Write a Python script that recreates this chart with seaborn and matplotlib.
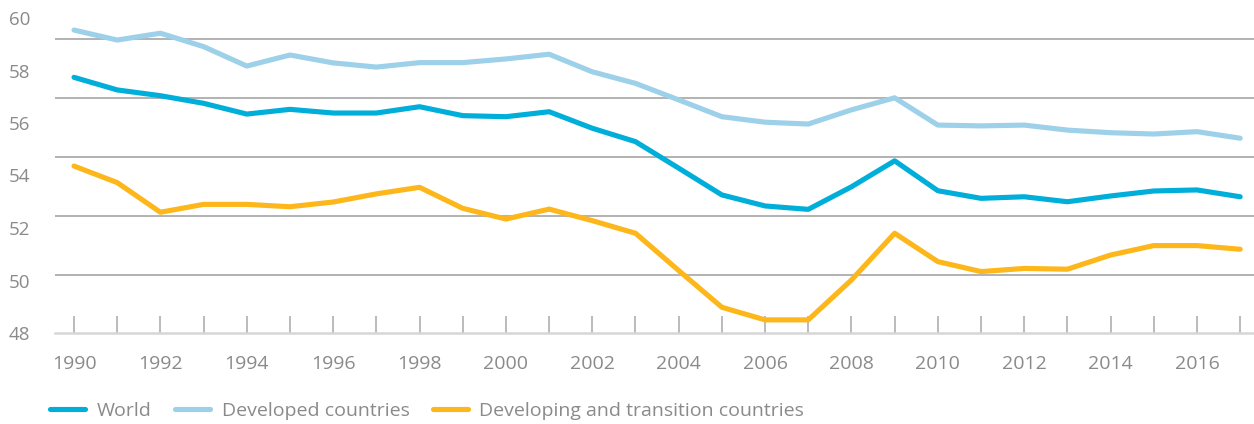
import matplotlib
matplotlib.use("Agg")
import matplotlib.pyplot as plt
import pandas as pd
import seaborn as sns
from matplotlib.ticker import FixedLocator

# Data
years = list(range(1990, 2018))
world = [57.74, 57.26, 57.04, 56.75, 56.34, 56.52, 56.38, 56.38, 56.62, 56.28,
         56.24, 56.43, 55.80, 55.29, 54.28, 53.26, 52.84, 52.71, 53.57, 54.56,
         53.42, 53.13, 53.19, 53.00, 53.22, 53.41, 53.45, 53.19]
developed = [59.54, 59.16, 59.42, 58.91, 58.17, 58.59, 58.29, 58.13, 58.30, 58.30,
             58.44, 58.62, 57.95, 57.51, 56.88, 56.24, 56.03, 55.96, 56.50, 56.96,
             55.92, 55.89, 55.92, 55.73, 55.63, 55.58, 55.67, 55.42]
developing = [54.36, 53.73, 52.60, 52.90, 52.90, 52.81, 52.99, 53.30, 53.55, 52.75,
              52.34, 52.72, 52.28, 51.80, 50.38, 48.98, 48.50, 48.50, 50.02, 51.80,
              50.72, 50.34, 50.46, 50.43, 50.97, 51.33, 51.33, 51.19]
series_names = ["World", "Developed countries", "Developing and transition countries"]
y_ticks = [48, 50, 52, 54, 56, 58, 60]
grid_levels = [50.2, 52.45, 54.7, 56.95, 59.2]

colors = ["#00AEDA", "#9DD0E9", "#FDB71A"]
text_grey = "#8a8a8a"

df = pd.DataFrame({
    "year": years * 3,
    "value": world + developed + developing,
    "series": [series_names[0]] * len(years) + [series_names[1]] * len(years)
              + [series_names[2]] * len(years),
})

sns.set_style("white")
plt.rcParams["font.family"] = ["Open Sans", "DejaVu Sans"]

fig = plt.figure(figsize=(12.54, 4.24), dpi=100)
ax = fig.add_axes([55 / 1254, 1 - 333 / 424, 1 - 55 / 1254, 315 / 424])

sns.lineplot(data=df, x="year", y="value", hue="series", hue_order=series_names,
             palette=colors, linewidth=3.7, ax=ax, legend=False,
             solid_capstyle="round", solid_joinstyle="round")

ax.set_xlim(1989.56, 2017.32)
ax.set_ylim(48, 60)

# x ticks: every year, labels every other year
ax.xaxis.set_major_locator(FixedLocator(years))
ax.set_xticklabels([str(y) if y % 2 == 0 else "" for y in years])
ax.tick_params(axis="x", bottom=True, direction="in", length=12, width=1.1,
               color="#a8a8a8", pad=16, labelsize=14, labelcolor=text_grey)

ax.yaxis.set_major_locator(FixedLocator(y_ticks))
ax.yaxis.set_minor_locator(FixedLocator(grid_levels))
ax.tick_params(axis="y", which="both", left=False, length=0, pad=18,
               labelsize=13.5, labelcolor=text_grey)
ax.grid(False)
ax.grid(which="minor", axis="y", color="#a6a6a6", linewidth=1.2)

ax.set_xlabel("")
ax.set_ylabel("")
for side in ["top", "right", "left"]:
    ax.spines[side].set_visible(False)
ax.spines["bottom"].set_color("#d6d6d6")
ax.spines["bottom"].set_linewidth(1.8)

handles = [plt.Line2D([], [], color=c, linewidth=3.7, solid_capstyle="round")
           for c in colors]
fig.legend(handles, series_names, loc="center left",
           bbox_to_anchor=(50 / 1254, 1 - 411 / 424), ncol=3, frameon=False,
           fontsize=14, labelcolor=text_grey, handlelength=1.8,
           handletextpad=0.6, columnspacing=1.2, borderpad=0, borderaxespad=0)

fig.savefig("out.png", dpi=100)
